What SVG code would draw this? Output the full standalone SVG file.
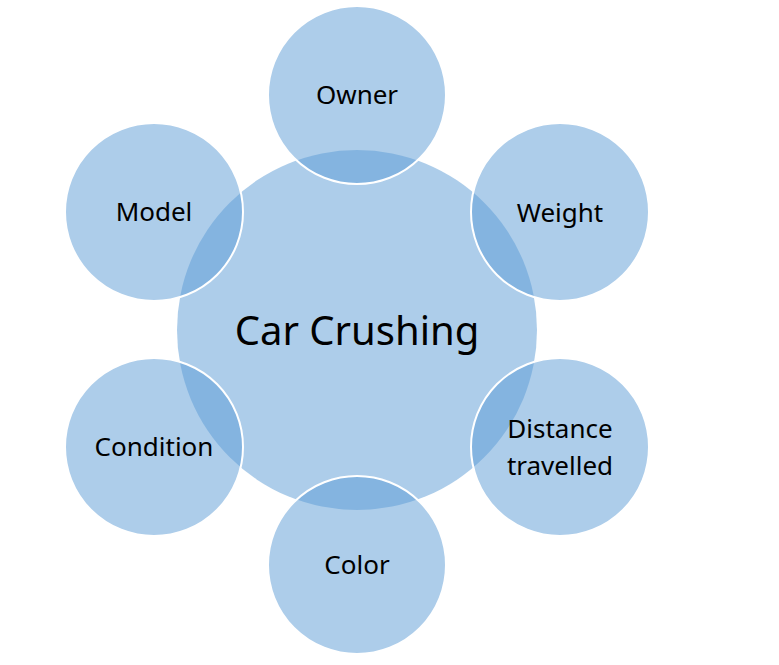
<svg xmlns="http://www.w3.org/2000/svg" width="779" height="665" viewBox="0 0 779 665">
<style>
.bg{fill:#fff}
.hub{fill:#5B9BD5;fill-opacity:0.5}
.sat{fill:#5B9BD5;fill-opacity:0.5;stroke:#fff;stroke-width:2}
.t{font-family:"Noto Sans","Open Sans",sans-serif;font-size:26px;fill:#000;text-anchor:middle}
.big{font-size:40px}
</style>
<rect class="bg" width="779" height="665"/>
<g id="connectors"></g>
<g id="hub"><circle class="hub" cx="357" cy="330" r="180"/><text class="t big" x="357" y="345">Car Crushing</text></g>
<g id="owner"><circle class="sat" cx="357" cy="95" r="89"/><text class="t" x="357" y="104">Owner</text></g>
<g id="weight"><circle class="sat" cx="560" cy="212" r="89"/><text class="t" x="560" y="222">Weight</text></g>
<g id="distance"><circle class="sat" cx="560" cy="447" r="89"/><text class="t" x="560" y="438">Distance</text><text class="t" x="560" y="475">travelled</text></g>
<g id="color"><circle class="sat" cx="357" cy="565" r="89"/><text class="t" x="357" y="574">Color</text></g>
<g id="condition"><circle class="sat" cx="154" cy="447" r="89"/><text class="t" x="154" y="456">Condition</text></g>
<g id="model"><circle class="sat" cx="154" cy="212" r="89"/><text class="t" x="154" y="221">Model</text></g>
</svg>
